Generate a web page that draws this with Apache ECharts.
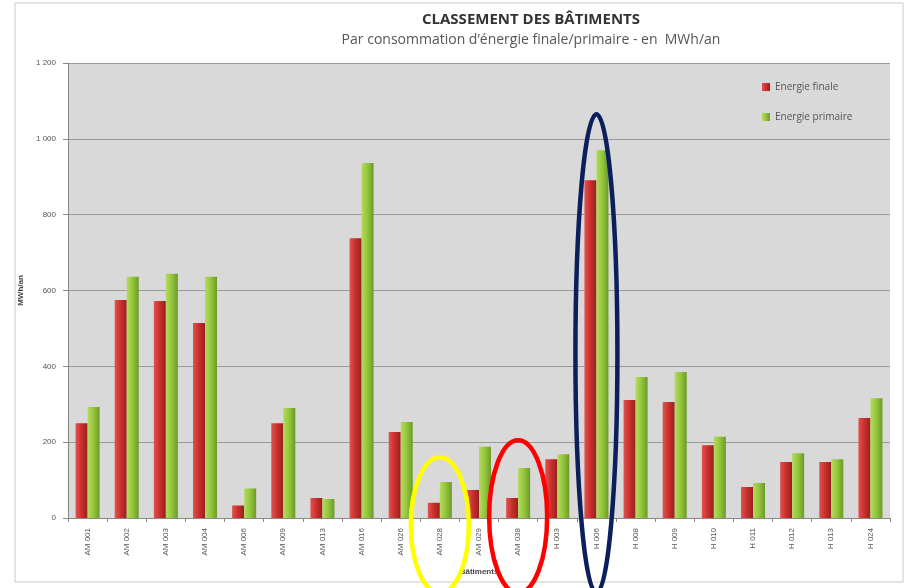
<!DOCTYPE html>
<html>
<head>
<meta charset="utf-8">
<script src="https://cdn.jsdelivr.net/npm/echarts@6/dist/echarts.min.js"></script>
<style>
  html, body { margin: 0; padding: 0; background: #fff; }
  #chart { width: 906px; height: 588px; }
</style>
</head>
<body>
<div id="chart"></div>
<script>
// buildings (x axis)
const batiments = [
  "AM001", "AM002", "AM003", "AM004", "AM006", "AM009", "AM013", "AM016",
  "AM026", "AM028", "AM029", "AM038", "H003", "H006", "H008", "H009",
  "H010", "H011", "H012", "H013", "H024"
];
// MWh/an
const energieFinale = [
  250, 575, 572, 514, 33, 250, 53, 738,
  227, 40, 74, 53, 155, 891, 311, 306,
  192, 82, 148, 148, 264
];
const energiePrimaire = [
  293, 636, 644, 636, 78, 290, 50, 936,
  253, 95, 188, 132, 168, 970, 372, 385,
  214, 92, 171, 155, 316
];
const yTicks = [0, 200, 400, 600, 800, 1000, 1200];

// hand-drawn highlight ellipses: building, top value, colour
const highlights = [
  { bat: "AM028", top: 160, color: "#ffff00" },
  { bat: "AM038", top: 205, color: "#ff0000" },
  { bat: "H006", top: 1065, color: "#0a1f5c" }
];

var chartDom = document.getElementById("chart");
var myChart = echarts.init(chartDom);

function fmt(v) {
  // french thousands separator
  return v >= 1000 ? Math.floor(v / 1000) + " " + String(v % 1000).padStart(3, "0") : String(v);
}

var option = {
  backgroundColor: "#fff",
  animation: false,
  title: {
    text: "CLASSEMENT DES BÂTIMENTS",
    subtext: "Par consommation d’énergie finale/primaire - en  MWh/an",
    left: 526,
    top: 7,
    textAlign: "center",
    itemGap: 6,
    textStyle: { fontFamily: "Open Sans", fontSize: 15, fontWeight: "bold", color: "#333" },
    subtextStyle: { fontFamily: "Open Sans", fontSize: 14, color: "#555" }
  },
  legend: {
    orient: "vertical",
    left: 757,
    top: 77,
    itemWidth: 8,
    itemHeight: 8,
    itemGap: 20,
    icon: "rect",
    data: ["Energie finale", "Energie primaire"],
    textStyle: { fontSize: 10, color: "#555", fontFamily: "Open Sans" }
  },
  grid: {
    left: 68,
    right: 16,
    top: 63,
    bottom: 70,
    show: true,
    backgroundColor: "#d9d9d9",
    borderWidth: 0
  },
  xAxis: {
    type: "category",
    data: batiments,
    name: "Bâtiments",
    nameLocation: "middle",
    nameGap: 50,
    nameTextStyle: { fontSize: 8, fontWeight: "bold", color: "#444", padding: [0, 0, 0, 0] },
    axisLine: { lineStyle: { color: "#888" } },
    axisTick: { show: true, alignWithLabel: false, length: 4, lineStyle: { color: "#888" } },
    axisLabel: {
      rotate: 90,
      fontSize: 8,
      color: "#555",
      margin: 10,
      formatter: (v) => v.replace(/^([A-Z]+)/, "$1 ")
    }
  },
  yAxis: {
    type: "value",
    min: 0,
    max: 1200,
    interval: 200,
    name: "MWh/an",
    nameLocation: "middle",
    nameGap: 43,
    nameRotate: 90,
    nameTextStyle: { fontSize: 8, fontWeight: "bold", color: "#444" },
    axisLine: { show: true, lineStyle: { color: "#888" } },
    axisTick: { show: true, length: 5, lineStyle: { color: "#888" } },
    axisLabel: {
      fontSize: 8,
      color: "#555",
      margin: 12,
      formatter: (v) => (yTicks.includes(v) ? fmt(v) : "")
    },
    splitLine: { lineStyle: { color: "#9a9a9a", width: 1 } }
  },
  series: [
    {
      name: "Energie finale",
      type: "bar",
      barWidth: 12,
      barGap: "0%",
      data: energieFinale,
      itemStyle: {
        color: new echarts.graphic.LinearGradient(0, 0, 1, 0, [
          { offset: 0, color: "#e2524f" },
          { offset: 0.5, color: "#c92f2c" },
          { offset: 1, color: "#962020" }
        ])
      }
    },
    {
      name: "Energie primaire",
      type: "bar",
      barWidth: 12,
      data: energiePrimaire,
      itemStyle: {
        color: new echarts.graphic.LinearGradient(0, 0, 1, 0, [
          { offset: 0, color: "#b5db5c" },
          { offset: 0.5, color: "#93c53c" },
          { offset: 1, color: "#6b9a27" }
        ])
      }
    }
  ]
};

myChart.setOption(option);

// outer frame + highlight ellipses, placed through the chart's own scales
var graphics = [
  {
    type: "rect",
    shape: { x: 15, y: 3, width: 888, height: 579 },
    style: { fill: null, stroke: "#c8c8c8", lineWidth: 1 },
    z: -1
  }
];
highlights.forEach(function (h) {
  var topPt = myChart.convertToPixel({ gridIndex: 0 }, [h.bat, h.top]);
  var basePt = myChart.convertToPixel({ gridIndex: 0 }, [h.bat, 0]);
  var bottom = basePt[1] + 75;
  graphics.push({
    type: "ellipse",
    shape: {
      cx: topPt[0],
      cy: (topPt[1] + bottom) / 2,
      rx: h.bat === "H006" ? 21 : 29,
      ry: (bottom - topPt[1]) / 2
    },
    style: { fill: null, stroke: h.color, lineWidth: 4.5 },
    z: 100
  });
});
myChart.setOption({ graphic: graphics });
</script>
</body>
</html>
